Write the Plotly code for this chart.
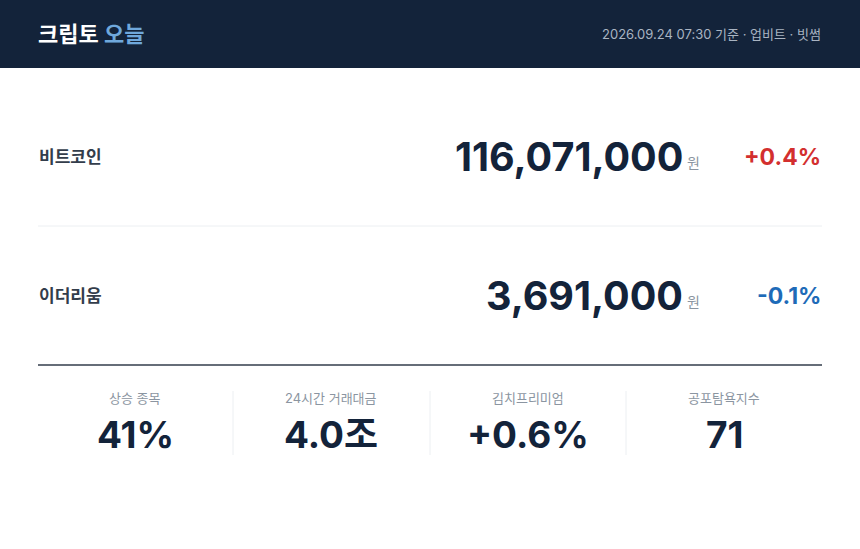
import plotly.graph_objects as go

W, H = 860, 549
coins = ["비트코인", "이더리움"]
prices = ["116,071,000", "3,691,000"]
changes = ["+0.4%", "-0.1%"]
stat_labels = ["상승 종목", "24시간 거래대금", "김치프리미엄", "공포탐욕지수"]
stat_values = ["41%", "4.0조", "+0.6%", "71"]

FONT = "Inter, Noto Sans CJK KR"
def X(p): return p / W
def Y(p): return 1 - p / H

fig = go.Figure()
shapes, ann = [], []
shapes.append(dict(type="rect", xref="paper", yref="paper", x0=0, x1=1, y0=Y(68), y1=1,
                   fillcolor="#13233a", line_width=0, layer="below"))
ann.append(dict(x=X(36), y=Y(34), text="<b>크립토 <span style='color:#6fa8dc'>오늘</span></b>",
                xanchor="left", font=dict(size=22, color="white", family=FONT)))
ann.append(dict(x=X(823), y=Y(34), text="2026.09.24 07:30 기준 · 업비트 · 빗썸",
                xanchor="right", font=dict(size=13, color="#a9b4c2", family=FONT)))
rows_y = [157, 296]
for i, (c, p, ch) in enumerate(zip(coins, prices, changes)):
    y = rows_y[i]
    ann.append(dict(x=X(37), y=Y(y), text="<b>" + c + "</b>", xanchor="left",
                    font=dict(size=17, color="#333d4b", family=FONT)))
    ann.append(dict(x=X(685), y=Y(y), text="<b>" + p + "</b>", xanchor="right",
                    font=dict(size=39.5, color="#13233a", family=FONT)))
    ann.append(dict(x=X(685), y=Y(y + 5), text="원", xanchor="left",
                    font=dict(size=14, color="#8b95a1", family=FONT)))
    col = "#d32f2f" if ch.startswith("+") else "#1e6bb8"
    ann.append(dict(x=X(823), y=Y(y), text="<b>" + ch + "</b>", xanchor="right",
                    font=dict(size=23, color=col, family=FONT)))
shapes.append(dict(type="line", xref="paper", yref="paper", x0=X(38), x1=X(822),
                   y0=Y(226), y1=Y(226), line=dict(color="#eceff2", width=1)))
shapes.append(dict(type="line", xref="paper", yref="paper", x0=X(38), x1=X(822),
                   y0=Y(365), y1=Y(365), line=dict(color="#333d4b", width=1.5)))
centers = [135, 331, 528, 724]
for i, (l, v) in enumerate(zip(stat_labels, stat_values)):
    cx = centers[i]
    ann.append(dict(x=X(cx), y=Y(398), text=l, xanchor="center",
                    font=dict(size=13, color="#8b95a1", family=FONT)))
    ann.append(dict(x=X(cx), y=Y(434), text="<b>" + v + "</b>", xanchor="center",
                    font=dict(size=37, color="#13233a", family=FONT)))
for sx in [233, 430, 626]:
    shapes.append(dict(type="line", xref="paper", yref="paper", x0=X(sx), x1=X(sx),
                       y0=Y(391), y1=Y(455), line=dict(color="#eceff2", width=1)))
for a in ann:
    a.update(xref="paper", yref="paper", yanchor="middle", showarrow=False)

fig.update_layout(width=W, height=H, margin=dict(l=0, r=0, t=0, b=0),
                  paper_bgcolor="white", plot_bgcolor="white",
                  xaxis=dict(visible=False), yaxis=dict(visible=False),
                  shapes=shapes, annotations=ann)
fig.write_html("out.html", config={"displayModeBar": False})
with open("out.html", encoding="utf-8") as f:
    html = f.read()
html = html.replace("<body>", "<body style=\"margin:0;overflow:hidden\">", 1)
with open("out.html", "w", encoding="utf-8") as f:
    f.write(html)
